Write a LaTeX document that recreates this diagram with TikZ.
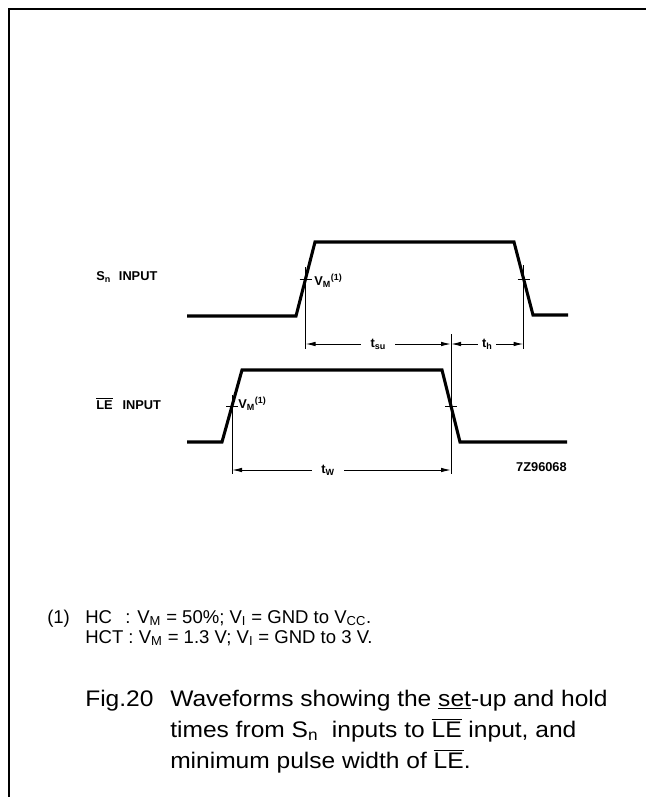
\documentclass[tikz,border=0pt]{standalone}
\usepackage{fontspec}
\setmainfont{Liberation Sans}
\newfontfamily\capfont[FakeStretch=1.09]{Liberation Sans}
\usetikzlibrary{arrows.meta}

\tikzset{
  wave/.style={line width=2.3pt},
  guide/.style={line width=0.75pt},
  dim/.style={line width=0.75pt,{Latex[length=7.5pt,width=3.4pt]}-{Latex[length=7.5pt,width=3.4pt]}},
  lbl/.style={font=\fontsize{9.6}{11}\selectfont\bfseries,inner sep=0pt},
  dimlbl/.style={lbl,fill=white,inner xsep=7pt,inner ysep=2pt},
  note/.style={font=\fontsize{13.9}{16}\selectfont,inner sep=0pt,anchor=base west},
  capt/.style={font=\capfont\fontsize{16.9}{20}\selectfont,inner sep=0pt,anchor=base west},
}
\newcommand{\lebar}{$\overline{\mbox{LE}}$}

\begin{document}
\begin{tikzpicture}[x=0.75pt,y=-0.75pt]
\useasboundingbox (0,0) rectangle (646,797);
% frame
\draw[line width=1.9pt] (9,797) -- (9,9) -- (646,9);

% waveforms
\draw[wave] (187,316) -- ++(109,0) -- ++(19,-74) -- ++(199,0)
                      -- ++(19,73) -- ++(35,0);
\draw[wave] (187,442) -- ++(35,0) -- ++(20,-72) -- ++(200,0)
                      -- ++(18,72) -- ++(107,0);

% V_M crossing points
\coordinate (snR) at (305.5,279);
\coordinate (snF) at (523.5,279);
\coordinate (leR) at (232,406);
\coordinate (leF) at (451,406);
\foreach \p in {snR,snF,leR,leF}
  \draw[guide] (\p) ++(-6,0) -- ++(12,0);

% guide lines
\draw[guide] (snR) ++(0,-12) -- ++(0,82);
\draw[guide] (snF) ++(0,-14) -- ++(0,84);
\draw[guide] (leR) ++(0,-11) -- ++(0,79);
\draw[guide] (leF) ++(0,-72) -- ++(0,140);

% timing
\coordinate (dimS) at (0,344);
\coordinate (dimW) at (0,470);
\draw[dim] (snR |- dimS) -- node[dimlbl]{t\textsubscript{su}} (leF |- dimS);
\draw[dim] (leF |- dimS) -- node[dimlbl,inner xsep=3pt]{t\textsubscript{h}} (snF |- dimS);
\draw[dim] (leR |- dimW) -- node[dimlbl,xshift=-10]{t\textsubscript{W}} (leF |- dimW);

% labels
\node[lbl,anchor=base west] (snin) at (96,280) {S\textsubscript{n}\hspace{6pt}INPUT};
\node[lbl,anchor=base west] (lein) at (96,409) {\lebar\hspace{7.5pt}INPUT};
\node[lbl,anchor=base west] (snvm) at (314,285) {V\textsubscript{M}\textsuperscript{(1)}};
\node[lbl,anchor=base west] (levm) at (238,408) {V\textsubscript{M}\textsuperscript{(1)}};
\node[lbl,anchor=base east] (code) at (567,471) {7Z96068};

% note
\node[note] (fn) at (47,623) {(1)};
\node[note] (hc) at (85,623) {HC};
\node[note] (hcv) at (125,623) {: V\textsubscript{M} = 50\%; V\textsubscript{I} = GND to V\textsubscript{CC}.};
\node[note] (hct) at (85,643) {HCT : V\textsubscript{M} = 1.3 V; V\textsubscript{I} = GND to 3 V.};

% caption
\node[capt] (fig) at (85,706) {Fig.20};
\node[capt] (cap1) at (170,706) {Waveforms showing the \underline{set}-up and hold};
\node[capt] (cap2) at (170,737) {times from S\textsubscript{n}\ \ inputs to \lebar{} input, and};
\node[capt] (cap3) at (170,768) {minimum pulse width of \lebar.};
\end{tikzpicture}
\end{document}
